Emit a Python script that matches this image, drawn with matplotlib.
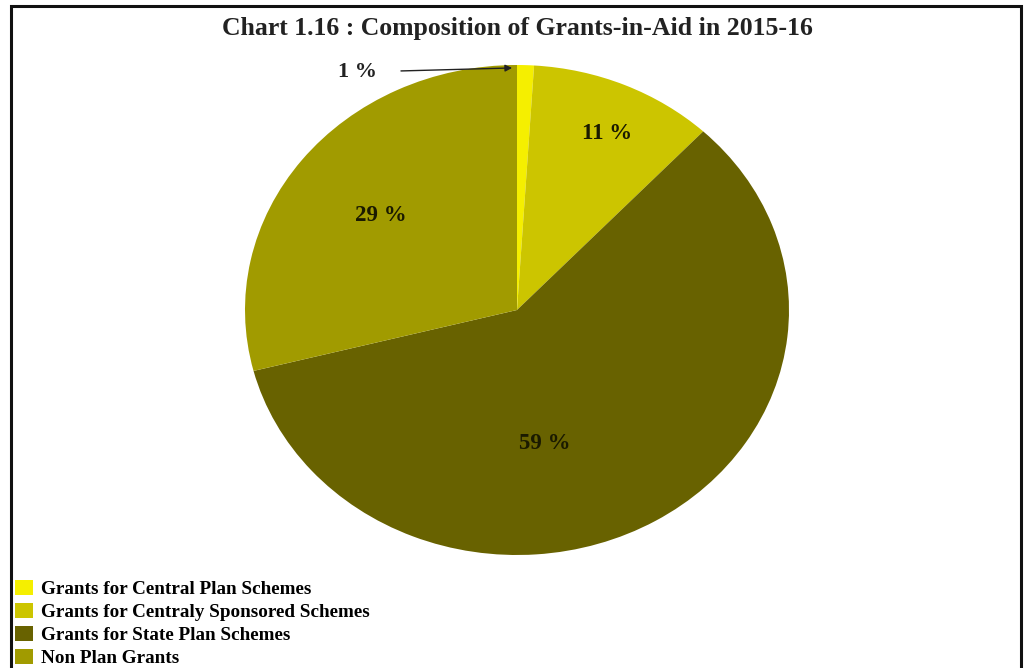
import matplotlib
matplotlib.use("Agg")
import matplotlib.pyplot as plt
from matplotlib.patches import Rectangle, Patch

title = "Chart 1.16 : Composition of Grants-in-Aid in 2015-16"
categories = [
    "Grants for Central Plan Schemes",
    "Grants for Centraly Sponsored Schemes",
    "Grants for State Plan Schemes",
    "Non Plan Grants",
]
shares = [1, 11, 59, 29]
colors = ["#F5EF00", "#CCC500", "#686200", "#A19B00"]

# label anchor points inside the pie (unit-radius data coordinates)
label_pos = [(-0.585, 0.971), (0.331, 0.722), (0.103, -0.543), (-0.500, 0.384)]

plt.rcParams["font.family"] = ["Liberation Serif", "DejaVu Serif"]

fig = plt.figure(figsize=(10.24, 6.68), dpi=100)
fig.patch.set_facecolor("white")

# outer frame (open at the bottom)
fig.patches.append(Rectangle((11 / 1024, -0.05), (1021 - 11) / 1024, 1.05 - 6 / 668,
                             transform=fig.transFigure, fill=False,
                             edgecolor="#111111", linewidth=2.2, zorder=10))

ax = fig.add_axes([245 / 1024, 113 / 668, 544 / 1024, 490 / 668])
ax.pie(shares, colors=colors, startangle=90, counterclock=False,
       wedgeprops=dict(linewidth=0))
ax.set_aspect("auto")
ax.set_xlim(-1, 1)
ax.set_ylim(-1, 1)
ax.axis("off")

for i, (v, (x, y)) in enumerate(zip(shares, label_pos)):
    if i == 0:
        ax.annotate(f"{v} %", xy=(-0.018, 0.988), xytext=(x, y),
                    ha="center", va="center", fontsize=16, fontweight="bold",
                    color="#222222", annotation_clip=False,
                    arrowprops=dict(arrowstyle="-|>", color="#222222", lw=1.0,
                                    shrinkA=15, shrinkB=0, mutation_scale=10))
    else:
        ax.text(x, y, f"{v} %", ha="center", va="center", fontsize=16.5,
                fontweight="bold", color="#1a1a00")

fig.text(517 / 1024, 1 - 28 / 668, title, ha="center", va="center",
         fontsize=18.5, fontweight="bold", color="#222222")

handles = [Patch(facecolor=c, edgecolor="none") for c in colors]
fig.legend(handles, categories, loc="lower left", bbox_to_anchor=(11 / 1024, -3 / 668),
           frameon=False, handlelength=0.95, handleheight=0.8, handletextpad=0.4,
           labelspacing=0.26, borderaxespad=0.0, borderpad=0.2,
           prop=dict(family=["Liberation Serif"], weight="bold", size=13.8))

fig.savefig("out.png", dpi=100, facecolor="white")
